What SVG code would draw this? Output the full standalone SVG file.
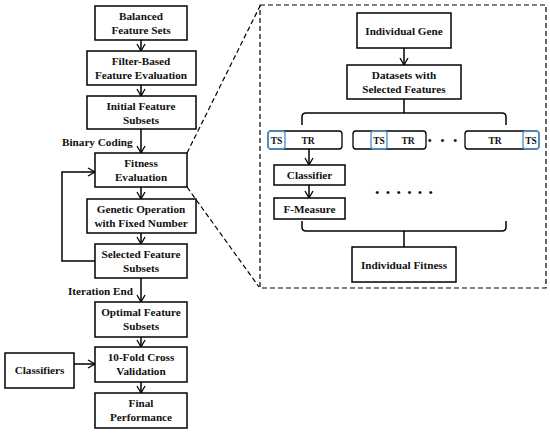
<svg xmlns="http://www.w3.org/2000/svg" width="550" height="435" viewBox="0 0 550 435">
<style>
.b{fill:#fff;stroke:#000;stroke-width:1.5}
.t{font-weight:bold;font-size:11.2px;fill:#111;text-anchor:middle}
.l{font-weight:bold;font-size:11.2px;fill:#111}
.c{fill:none;stroke:#000;stroke-width:1.5}
.d{fill:none;stroke:#000;stroke-width:1.2;stroke-dasharray:5,3}
.rb{fill:#fff;stroke:#000;stroke-width:1.3}
.ts{fill:none;stroke:#5b9bd5;stroke-width:1.5}
.s{font-weight:bold;font-size:9.5px;fill:#111;text-anchor:middle}
</style>
<defs>
<marker id="a" markerWidth="10" markerHeight="10" refX="8" refY="5" orient="auto" markerUnits="userSpaceOnUse">
<path d="M1,1 L8,5 L1,9" fill="none" stroke="#000" stroke-width="1.3"/>
</marker>
</defs>
<rect width="550" height="435" fill="#fff"/>
<g id="connectors">
<line class="c" x1="141" y1="40" x2="141" y2="51" marker-end="url(#a)"/>
<line class="c" x1="141" y1="85" x2="141" y2="96" marker-end="url(#a)"/>
<line class="c" x1="141" y1="129" x2="141" y2="153" marker-end="url(#a)"/>
<line class="c" x1="141" y1="187" x2="141" y2="199" marker-end="url(#a)"/>
<line class="c" x1="141" y1="233" x2="141" y2="244" marker-end="url(#a)"/>
<polyline class="c" points="95,261 62,261 62,172 95,172" marker-end="url(#a)"/>
<line class="c" x1="141" y1="278" x2="141" y2="302" marker-end="url(#a)"/>
<line class="c" x1="141" y1="337" x2="141" y2="347" marker-end="url(#a)"/>
<line class="c" x1="74" y1="364" x2="95" y2="364" marker-end="url(#a)"/>
<line class="c" x1="141" y1="382" x2="141" y2="393" marker-end="url(#a)"/>
<line class="d" x1="187" y1="153" x2="260" y2="6"/>
<line class="d" x1="187" y1="187" x2="259" y2="287"/>
<line class="c" x1="404" y1="48" x2="404" y2="65" marker-end="url(#a)"/>
<path class="c" d="M404,99 V113 M302,125 V117 Q302,113 306,113 H502 Q506,113 506,117 V125"/>
<line class="c" x1="309" y1="149" x2="309" y2="165" marker-end="url(#a)"/>
<line class="c" x1="309" y1="185" x2="309" y2="198" marker-end="url(#a)"/>
<path class="c" d="M302,221 V227 Q302,231 306,231 H502 Q506,231 506,227 V221 M404,231 V247"/>
</g>
<rect class="d" x="260" y="5" width="286" height="283"/>
<g font-family="'Liberation Serif', 'Times New Roman', Times, serif">
<g id="n1"><rect class="b" x="95" y="6" width="92" height="34"/><text class="t" x="141" y="20">Balanced</text><text class="t" x="141" y="34">Feature Sets</text></g>
<g id="n2"><rect class="b" x="87" y="51" width="109" height="34"/><text class="t" x="141" y="65">Filter-Based</text><text class="t" x="141" y="79">Feature Evaluation</text></g>
<g id="n3"><rect class="b" x="87" y="96" width="109" height="33"/><text class="t" x="141" y="110">Initial Feature</text><text class="t" x="141" y="124">Subsets</text></g>
<text class="l" x="62" y="146">Binary Coding</text>
<g id="n4"><rect class="b" x="95" y="153" width="92" height="34"/><text class="t" x="141" y="167">Fitness</text><text class="t" x="141" y="181">Evaluation</text></g>
<g id="n5"><rect class="b" x="87" y="199" width="109" height="34"/><text class="t" x="141" y="213">Genetic Operation</text><text class="t" x="141" y="227">with Fixed Number</text></g>
<g id="n6"><rect class="b" x="95" y="244" width="92" height="34"/><text class="t" x="141" y="258">Selected Feature</text><text class="t" x="141" y="272">Subsets</text></g>
<text class="l" x="68" y="295">Iteration End</text>
<g id="n7"><rect class="b" x="95" y="302" width="92" height="35"/><text class="t" x="141" y="316">Optimal Feature</text><text class="t" x="141" y="330">Subsets</text></g>
<g id="n8"><rect class="b" x="95" y="347" width="92" height="35"/><text class="t" x="141" y="361">10-Fold Cross</text><text class="t" x="141" y="375">Validation</text></g>
<g id="n9"><rect class="b" x="5" y="353" width="69" height="35"/><text class="t" x="39.5" y="374">Classifiers</text></g>
<g id="n10"><rect class="b" x="95" y="393" width="92" height="35"/><text class="t" x="141" y="407">Final</text><text class="t" x="141" y="421">Performance</text></g>
<g id="r1"><rect class="b" x="357" y="13" width="94" height="35"/><text class="t" x="404" y="35">Individual Gene</text></g>
<g id="r2"><rect class="b" x="347" y="65" width="114" height="34"/><text class="t" x="404" y="79">Datasets with</text><text class="t" x="404" y="93">Selected Features</text></g>
<g id="f1"><rect class="rb" x="268" y="131" width="74" height="18" rx="3"/><rect class="ts" x="268" y="131" width="17" height="18" rx="3"/><text class="s" x="276.5" y="143.5">TS</text><text class="s" x="308" y="143.5">TR</text></g>
<g id="f2"><rect class="rb" x="353" y="131" width="73" height="18" rx="3"/><rect class="ts" x="371" y="131" width="16" height="18" rx="3"/><text class="s" x="379" y="143.5">TS</text><text class="s" x="408" y="143.5">TR</text></g>
<text class="t" x="444" y="144" letter-spacing="3">• • •</text>
<g id="f3"><rect class="rb" x="465" y="131" width="74" height="18" rx="3"/><rect class="ts" x="523" y="131" width="16" height="18" rx="3"/><text class="s" x="531" y="143.5">TS</text><text class="s" x="495" y="143.5">TR</text></g>
<g id="r3"><rect class="b" x="274" y="165" width="71" height="20"/><text class="t" x="309.5" y="179">Classifier</text></g>
<g id="r4"><rect class="b" x="274" y="198" width="71" height="21"/><text class="t" x="309.5" y="212.5">F-Measure</text></g>
<text class="t" x="405" y="196" letter-spacing="2">• • • • • •</text>
<g id="r5"><rect class="b" x="352" y="247" width="104" height="35"/><text class="t" x="404" y="268.5">Individual Fitness</text></g>
</g>
</svg>
